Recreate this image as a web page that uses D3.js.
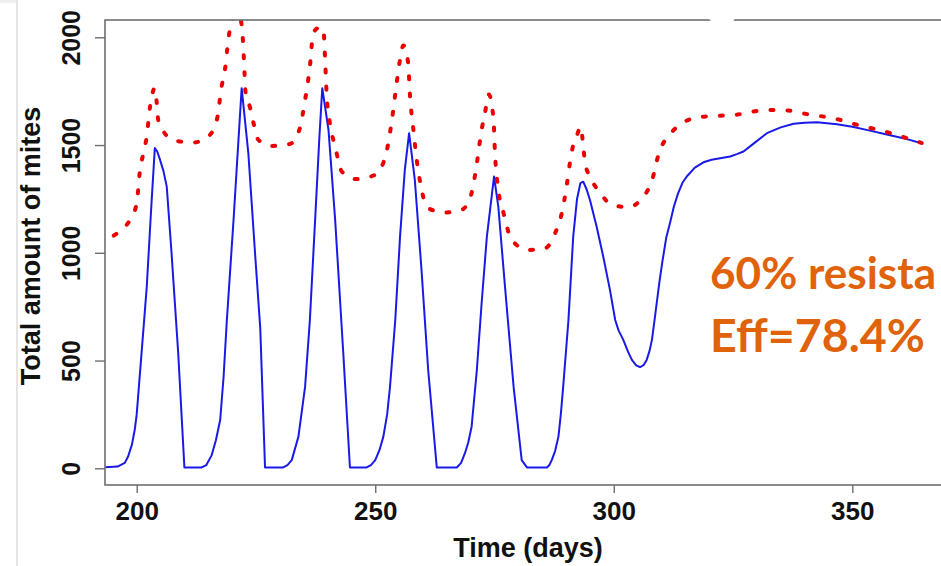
<!DOCTYPE html>
<html>
<head>
<meta charset="utf-8">
<script src="https://cdn.jsdelivr.net/npm/d3@7"></script>
<style>
  html, body { margin: 0; padding: 0; background: #ffffff; overflow: hidden; }
  svg { display: block; }
</style>
</head>
<body>
<script>
// ---------------- data ----------------
const xTicks = [200, 250, 300, 350];
const yTicks = [0, 500, 1000, 1500, 2000];

const blueDays = [
  193.4, 196, 197.5, 198.2, 199, 199.6, 200, 201, 202.1, 203.1, 203.8, 204.3, 204.9, 205.6, 206.3, 207.3, 208.7, 210,
  213.6, 214.6, 215.7, 216.6, 217.5, 218.2, 218.9, 220.3, 222, 223.4, 224.8, 225.9, 226.9,
  230.7, 231.6, 232.5, 233.9, 235.3, 236.3, 237.4, 238.3, 238.9, 240.2, 241.6, 243.3, 244.7,
  248.2, 249.1, 250, 250.9, 251.7, 252.5, 253.1, 254.2, 255.2, 256.2, 257.1, 258.3, 259.7, 261.1, 262.9,
  267.1, 268, 268.8, 269.5, 270.2, 271.3, 272.3, 273.4, 274.9, 275.8, 277.2, 279, 280.7, 281.8,
  286, 286.5, 287, 287.7, 288.4, 288.9, 289.4, 290.5, 291.5, 292.3, 293, 293.6, 294.3, 295, 296.4, 297.8, 299.2, 300.3,
  301, 302, 303, 303.8, 304.7, 305.5, 306.3, 306.9, 307.5, 308, 308.5, 309, 309.6, 310.2, 311, 311.8, 312.6, 313.5,
  314.4, 315.3, 317, 318.8, 320.5, 322.3, 324.4, 325.8, 327.2, 329.5, 332.1, 335, 337.7, 340, 342.6, 346.8, 350,
  353.7, 357, 360.7, 364.9];
const blueValues = [
  5, 8, 25, 55, 110, 180, 250, 530, 840, 1230, 1486, 1470, 1431, 1380, 1307, 1000, 535, 4,
  4, 15, 60, 130, 224, 420, 688, 1153, 1764, 1463, 1000, 650, 4,
  4, 15, 38, 147, 379, 688, 1153, 1540, 1764, 1571, 1153, 535, 4,
  4, 15, 38, 85, 147, 250, 379, 688, 1075, 1385, 1555, 1338, 921, 456, 4,
  4, 25, 70, 120, 193, 456, 766, 1075, 1354, 1214, 843, 379, 38, 4,
  4, 15, 38, 80, 147, 250, 379, 688, 1075, 1250, 1323, 1330, 1295, 1246, 1122, 982, 828, 688,
  640, 596, 540, 503, 478, 469, 480, 503, 545, 596, 680, 766, 870, 960, 1070, 1140, 1215, 1277,
  1325, 1354, 1395, 1420, 1432, 1439, 1447, 1458, 1470, 1510, 1555, 1582, 1599, 1604, 1606, 1597, 1585,
  1567, 1550, 1532, 1506];

const redDays = [195.2, 197, 198.6, 200, 200.7, 201.4, 202.1, 202.8, 203.8, 204.2, 204.5, 205.6, 208, 211.9,
  215, 216.8, 217.8, 218.5, 219.2, 220.3, 221.3, 222, 222.3, 222.6, 222.8, 223.8, 224.5, 225.5, 228.3,
  232.1, 234.1, 235.3, 236.3, 237, 238.1, 239.1, 239.5, 239.8, 240.5, 241.6, 243, 246.1,
  250, 252.3, 253.5, 254.4, 255.2, 255.9, 256.9, 257.3, 258, 258.7, 259.1, 261.1, 264.6,
  268.1, 270.2, 271.3, 272.3, 273, 273.8, 274.8, 275.1, 275.8, 276.9, 278.6, 282.1, 285.6,
  287.7, 289.1, 290.1, 290.8, 291.5, 292.2, 293.1, 293.6, 294, 295, 297.1, 299.6, 303.1,
  305.9, 308, 309.5, 311.8, 314.6, 318.1, 321.9, 325.4, 329.3, 332.8, 336.6, 340.1,
  344, 347.4, 351, 354.8, 358.6, 362.1, 364.5];
const redValues = [1080, 1110, 1153, 1230, 1385, 1462, 1540, 1679, 1764, 1696, 1617, 1563, 1521, 1512,
  1540, 1617, 1772, 1849, 1988, 2100, 2110, 2058, 1973, 1834, 1748, 1671, 1601, 1524, 1496,
  1505, 1571, 1710, 1864, 2019, 2043, 2043, 1896, 1741, 1601, 1493, 1377, 1342,
  1362, 1462, 1617, 1772, 1896, 1962, 1880, 1725, 1571, 1431, 1370, 1207, 1187,
  1199, 1277, 1416, 1571, 1648, 1735, 1617, 1462, 1292, 1184, 1060, 1013, 1021,
  1091, 1184, 1307, 1416, 1500, 1540, 1585, 1493, 1416, 1354, 1280, 1222, 1212,
  1253, 1335, 1465, 1550, 1605, 1630, 1636, 1640, 1656, 1663, 1660, 1645,
  1632, 1617, 1594, 1574, 1552, 1527, 1510];

const xTitle = "Time (days)";
const yTitle = "Total amount of mites";
const noteLines = ["60% resista", "Eff=78.4%"];

// ---------------- drawing ----------------
const W = 941, H = 566;
const plot = { left: 105, top: 20, bottom: 485, right: 1000 };

const svg = d3.select("body").append("svg").attr("width", W).attr("height", H);

const x = d3.scaleLinear().domain([200, 350]).range([136.7, 852.3]);
const y = d3.scaleLinear().domain([0, 2000]).range([468.3, 37.3]);

// faint slide artefacts
svg.append("rect").attr("x", 0).attr("y", 0).attr("width", 16).attr("height", 3).attr("fill", "#eeeeee");
svg.append("line").attr("x1", 17).attr("x2", 17).attr("y1", 0).attr("y2", H)
  .attr("stroke", "#dcdcdc").attr("stroke-width", 1.5);

svg.append("clipPath").attr("id", "plotclip").append("rect")
  .attr("x", plot.left).attr("y", plot.top)
  .attr("width", plot.right - plot.left).attr("height", plot.bottom - plot.top);

const gLines = svg.append("g").attr("clip-path", "url(#plotclip)");

const blueData = blueDays.map((d, i) => [d, blueValues[i]]);
const redData = redDays.map((d, i) => [d, redValues[i]]);

const blueLine = d3.line().x(d => x(d[0])).y(d => y(d[1])).curve(d3.curveLinear);
const redLine = d3.line().x(d => x(d[0])).y(d => y(d[1])).curve(d3.curveMonotoneX);

gLines.append("path").datum(blueData).attr("d", blueLine)
  .attr("fill", "none").attr("stroke", "#1a1ae6").attr("stroke-width", 2)
  .attr("stroke-linejoin", "round");

gLines.append("path").datum(redData).attr("d", redLine)
  .attr("fill", "none").attr("stroke", "#ea0000").attr("stroke-width", 4)
  .attr("stroke-linecap", "round").attr("stroke-dasharray", "3,14");

// box
const axisColor = "#6e6e6e";
svg.append("rect").attr("x", plot.left).attr("y", plot.top)
  .attr("width", plot.right - plot.left).attr("height", plot.bottom - plot.top)
  .attr("fill", "none").attr("stroke", axisColor).attr("stroke-width", 1.6);

// notch in the top border
svg.append("path").attr("d", "M707,17 L736,17 L732,23 L713,23 Z").attr("fill", "#ffffff");

const font = "'Liberation Sans', Arial, Helvetica, sans-serif";

// x axis
const gx = svg.append("g").attr("transform", `translate(0,${plot.bottom})`)
  .call(d3.axisBottom(x).tickValues(xTicks).tickSize(8).tickFormat(d3.format("d")));
gx.select(".domain").remove();
gx.selectAll(".tick line").attr("stroke", axisColor).attr("stroke-width", 1.4);
gx.selectAll(".tick text").attr("y", 35).attr("dy", null)
  .attr("fill", "#111").style("font-family", font).style("font-weight", "bold").style("font-size", "26px");

// y axis
const gy = svg.append("g").attr("transform", `translate(${plot.left},0)`)
  .call(d3.axisLeft(y).tickValues(yTicks).tickSize(10).tickFormat(d3.format("d")));
gy.select(".domain").remove();
gy.selectAll(".tick line").attr("stroke", axisColor).attr("stroke-width", 1.4);
gy.selectAll(".tick text")
  .attr("transform", "rotate(-90)")
  .attr("x", 0).attr("y", -25).attr("dy", null).attr("dx", null)
  .attr("text-anchor", "middle")
  .attr("fill", "#111").style("font-family", font).style("font-weight", "bold").style("font-size", "25px");

// titles
svg.append("text").attr("x", 528).attr("y", 557).attr("text-anchor", "middle")
  .attr("fill", "#111").style("font-family", font).style("font-weight", "bold").style("font-size", "27px")
  .text(xTitle);
svg.append("text").attr("transform", "translate(40,246) rotate(-90)").attr("text-anchor", "middle")
  .attr("fill", "#111").style("font-family", font).style("font-weight", "bold").style("font-size", "27px")
  .text(yTitle);

// orange annotation
const noteColor = "#e0620a";
const noteFont = "Lato, 'Open Sans', sans-serif";
const n2 = svg.append("text").attr("x", 710).attr("y", 352).attr("fill", noteColor)
  .style("font-family", noteFont).style("font-weight", "bold").style("font-size", "48px").text(noteLines[1]);
const natural = n2.node().getComputedTextLength();
const fs = 48 * 215 / natural;
n2.style("font-size", fs + "px");
const n1 = svg.append("text").attr("x", 710).attr("y", 289).attr("fill", noteColor)
  .style("font-family", noteFont).style("font-weight", "bold").style("font-size", fs + "px").text(noteLines[0]);
const w1 = n1.node().getComputedTextLength();
if (w1 > 226) n1.style("font-size", (fs * 226 / w1) + "px");
</script>
</body>
</html>
